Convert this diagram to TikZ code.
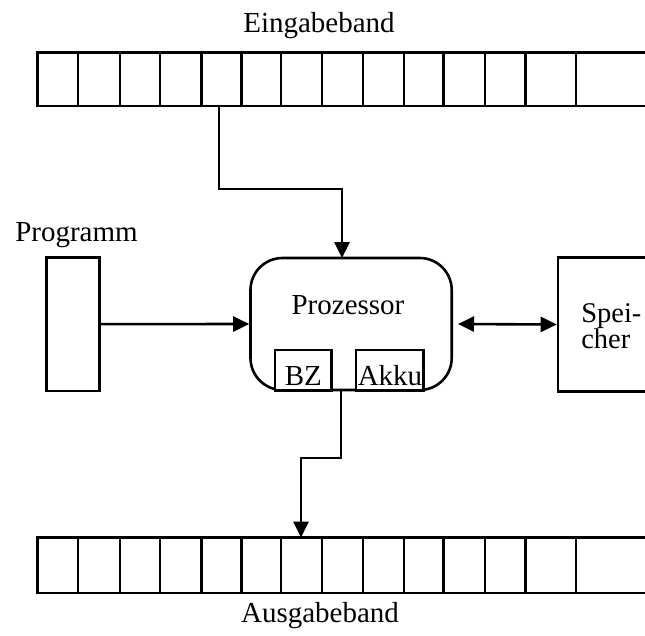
\documentclass[tikz,border=0pt]{standalone}
\usepackage{fontspec}
\setmainfont{Liberation Serif}
\usetikzlibrary{arrows.meta}
\begin{document}
\begin{tikzpicture}[x=1pt,y=-1pt,
  line width=2.6pt,
  box/.style={draw, rectangle, inner sep=0pt},
  lbl/.style={inner sep=0pt, anchor=base, font=\fontsize{29}{33}\selectfont},
  arr/.style={-{Triangle[length=16pt,width=15pt]}},
  darr/.style={{Triangle[length=16pt,width=15pt]}-{Triangle[length=16pt,width=15pt]}}
]
\useasboundingbox (0,0) rectangle (645,635);
\fill[white] (0,0) rectangle (645,635);

% labels
\node[lbl] (einL) at (319,32) {Eingabeband};
\node[lbl] (ausL) at (320,622) {Ausgabeband};
\node[lbl, anchor=base west] (progL) at (14,241) {Programm};

% tapes
\node[box, minimum width=622.5pt, minimum height=53.7pt] (ein) at (348.75,79.15) {};
\node[box, minimum width=622.5pt, minimum height=55.5pt] (aus) at (348.75,565.25) {};
\foreach \x in {78,120,160,201.5,241.5,281,322,363,404,443.5,485,525.5,576}{
  \draw (ein.north -| \x,0) -- (ein.south -| \x,0);
  \draw (aus.north -| \x,0) -- (aus.south -| \x,0);
}

% Programm
\node[box, minimum width=52.6pt, minimum height=133.7pt] (prog) at (73,324.15) {};

% Prozessor
\node[draw, rectangle, rounded corners=32pt, inner sep=0pt,
      minimum width=201.2pt, minimum height=132pt] (proz) at (351.1,324) {};
\node[lbl] (prozL) at (348,314) {Prozessor};
\node[box, fill=white, minimum width=56.7pt, minimum height=40.5pt] (bz) at (303.35,370.25) {};
\node[lbl] (bzL) at (303.35,385) {BZ};
\node[box, fill=white, minimum width=67.5pt, minimum height=40.5pt] (akku) at (389.75,370.25) {};
\node[lbl] (akkuL) at (390,385) {Akku};

% Speicher
\node[box, minimum width=102pt, minimum height=134.4pt] (speich) at (609,324.5) {};
\node[inner sep=0pt, anchor=base west, align=left,
      font=\fontsize{28.5}{26}\selectfont] (speichL) at (580,348) {Spei-\\cher};

% connectors
\coordinate (einOut) at (219,106);
\coordinate (prozIn) at (342,258);
\coordinate (prozOut) at (341,390.5);
\coordinate (ausIn) at (301,537.5);
\coordinate (prozR) at (458,324);

\draw[arr] (einOut) -- (219,189) -| (prozIn);
\draw[arr] (prog.east) -- (proz.west);
\draw[darr] (prozR) -- (speich.west);
\draw[arr] (prozOut) -- (341,458) -| (ausIn);
\end{tikzpicture}
\end{document}
